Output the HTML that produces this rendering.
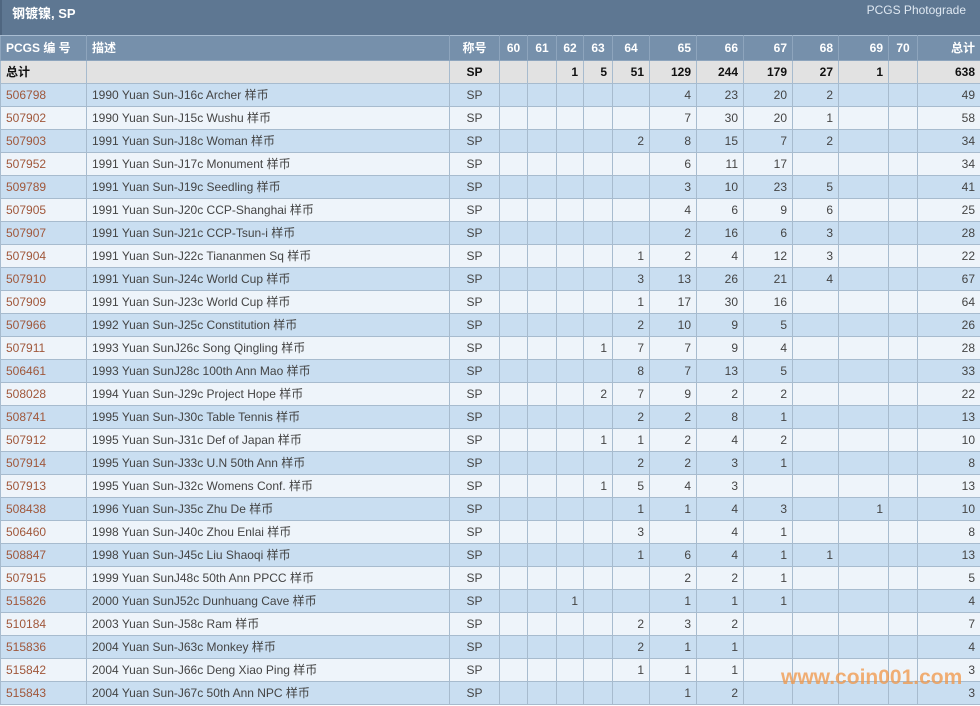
<!DOCTYPE html>
<html><head><meta charset="utf-8"><style>
*{margin:0;padding:0;box-sizing:border-box}
body{width:980px;height:706px;overflow:hidden;background:#fff;font-family:"Liberation Sans","Noto Sans CJK SC",sans-serif;font-size:12px;color:#444;position:relative}
.title{height:35px;background:#5e7792;color:#fff;position:relative;border-left:2px solid #4f6680}
.title .l{position:absolute;left:10px;top:6px;font-weight:bold;font-size:13px;line-height:16px}
.title .r{position:absolute;right:14px;top:3px;font-size:12px;color:#dfe8f2;line-height:14px}
table{border-collapse:collapse;table-layout:fixed;width:980px;position:absolute;top:35px;left:0}
td,th{height:23px;line-height:14px;border:1px solid #a7bbce;padding:0 5px;white-space:nowrap;overflow:hidden;text-align:right;vertical-align:middle}
td.d span{font-family:"Noto Sans CJK SC",sans-serif;font-size:12px;line-height:14px;vertical-align:top}
th{background:#7690ab;color:#fff;font-weight:bold;height:25px;border-color:#8ea5bd;border-top:1px solid #a9bdd2}
tr.tot td{background:#e2e2e2;font-weight:bold;color:#111}
tr.a td{background:#c9def1}
tr.b td{background:#eef4fa}
td.id{color:#a0573a;text-align:left}
td.d{text-align:left}
th.l{text-align:left}
td.c,th.c{text-align:center}
.wm{position:absolute;left:781px;top:666px;font-size:21px;font-weight:bold;color:rgba(240,150,70,0.75);font-family:"Liberation Sans",sans-serif}
</style></head><body>
<div class="title"><span class="l">钢镀镍, SP</span><span class="r">PCGS Photograde</span></div>
<table>
<colgroup><col style="width:86px"><col style="width:363px"><col style="width:50px"><col style="width:28px"><col style="width:29px"><col style="width:27px"><col style="width:29px"><col style="width:37px"><col style="width:47px"><col style="width:47px"><col style="width:49px"><col style="width:46px"><col style="width:50px"><col style="width:29px"><col style="width:63px"></colgroup>
<tr><th class="l">PCGS 编 号</th><th class="l">描述</th><th class="c">称号</th><th class="c">60</th><th class="c">61</th><th class="c">62</th><th class="c">63</th><th class="c">64</th><th>65</th><th>66</th><th>67</th><th>68</th><th>69</th><th class="c">70</th><th>总计</th></tr>
<tr class="tot"><td style="text-align:left">总计</td><td></td><td class="c">SP</td><td></td><td></td><td>1</td><td>5</td><td>51</td><td>129</td><td>244</td><td>179</td><td>27</td><td>1</td><td></td><td>638</td></tr>
<tr class="a"><td class="id">506798</td><td class="d">1990 Yuan Sun-J16c Archer <span>样币</span></td><td class="c">SP</td><td></td><td></td><td></td><td></td><td></td><td>4</td><td>23</td><td>20</td><td>2</td><td></td><td></td><td>49</td></tr>
<tr class="b"><td class="id">507902</td><td class="d">1990 Yuan Sun-J15c Wushu <span>样币</span></td><td class="c">SP</td><td></td><td></td><td></td><td></td><td></td><td>7</td><td>30</td><td>20</td><td>1</td><td></td><td></td><td>58</td></tr>
<tr class="a"><td class="id">507903</td><td class="d">1991 Yuan Sun-J18c Woman <span>样币</span></td><td class="c">SP</td><td></td><td></td><td></td><td></td><td>2</td><td>8</td><td>15</td><td>7</td><td>2</td><td></td><td></td><td>34</td></tr>
<tr class="b"><td class="id">507952</td><td class="d">1991 Yuan Sun-J17c Monument <span>样币</span></td><td class="c">SP</td><td></td><td></td><td></td><td></td><td></td><td>6</td><td>11</td><td>17</td><td></td><td></td><td></td><td>34</td></tr>
<tr class="a"><td class="id">509789</td><td class="d">1991 Yuan Sun-J19c Seedling <span>样币</span></td><td class="c">SP</td><td></td><td></td><td></td><td></td><td></td><td>3</td><td>10</td><td>23</td><td>5</td><td></td><td></td><td>41</td></tr>
<tr class="b"><td class="id">507905</td><td class="d">1991 Yuan Sun-J20c CCP-Shanghai <span>样币</span></td><td class="c">SP</td><td></td><td></td><td></td><td></td><td></td><td>4</td><td>6</td><td>9</td><td>6</td><td></td><td></td><td>25</td></tr>
<tr class="a"><td class="id">507907</td><td class="d">1991 Yuan Sun-J21c CCP-Tsun-i <span>样币</span></td><td class="c">SP</td><td></td><td></td><td></td><td></td><td></td><td>2</td><td>16</td><td>6</td><td>3</td><td></td><td></td><td>28</td></tr>
<tr class="b"><td class="id">507904</td><td class="d">1991 Yuan Sun-J22c Tiananmen Sq <span>样币</span></td><td class="c">SP</td><td></td><td></td><td></td><td></td><td>1</td><td>2</td><td>4</td><td>12</td><td>3</td><td></td><td></td><td>22</td></tr>
<tr class="a"><td class="id">507910</td><td class="d">1991 Yuan Sun-J24c World Cup <span>样币</span></td><td class="c">SP</td><td></td><td></td><td></td><td></td><td>3</td><td>13</td><td>26</td><td>21</td><td>4</td><td></td><td></td><td>67</td></tr>
<tr class="b"><td class="id">507909</td><td class="d">1991 Yuan Sun-J23c World Cup <span>样币</span></td><td class="c">SP</td><td></td><td></td><td></td><td></td><td>1</td><td>17</td><td>30</td><td>16</td><td></td><td></td><td></td><td>64</td></tr>
<tr class="a"><td class="id">507966</td><td class="d">1992 Yuan Sun-J25c Constitution <span>样币</span></td><td class="c">SP</td><td></td><td></td><td></td><td></td><td>2</td><td>10</td><td>9</td><td>5</td><td></td><td></td><td></td><td>26</td></tr>
<tr class="b"><td class="id">507911</td><td class="d">1993 Yuan SunJ26c Song Qingling <span>样币</span></td><td class="c">SP</td><td></td><td></td><td></td><td>1</td><td>7</td><td>7</td><td>9</td><td>4</td><td></td><td></td><td></td><td>28</td></tr>
<tr class="a"><td class="id">506461</td><td class="d">1993 Yuan SunJ28c 100th Ann Mao <span>样币</span></td><td class="c">SP</td><td></td><td></td><td></td><td></td><td>8</td><td>7</td><td>13</td><td>5</td><td></td><td></td><td></td><td>33</td></tr>
<tr class="b"><td class="id">508028</td><td class="d">1994 Yuan Sun-J29c Project Hope <span>样币</span></td><td class="c">SP</td><td></td><td></td><td></td><td>2</td><td>7</td><td>9</td><td>2</td><td>2</td><td></td><td></td><td></td><td>22</td></tr>
<tr class="a"><td class="id">508741</td><td class="d">1995 Yuan Sun-J30c Table Tennis <span>样币</span></td><td class="c">SP</td><td></td><td></td><td></td><td></td><td>2</td><td>2</td><td>8</td><td>1</td><td></td><td></td><td></td><td>13</td></tr>
<tr class="b"><td class="id">507912</td><td class="d">1995 Yuan Sun-J31c Def of Japan <span>样币</span></td><td class="c">SP</td><td></td><td></td><td></td><td>1</td><td>1</td><td>2</td><td>4</td><td>2</td><td></td><td></td><td></td><td>10</td></tr>
<tr class="a"><td class="id">507914</td><td class="d">1995 Yuan Sun-J33c U.N 50th Ann <span>样币</span></td><td class="c">SP</td><td></td><td></td><td></td><td></td><td>2</td><td>2</td><td>3</td><td>1</td><td></td><td></td><td></td><td>8</td></tr>
<tr class="b"><td class="id">507913</td><td class="d">1995 Yuan Sun-J32c Womens Conf. <span>样币</span></td><td class="c">SP</td><td></td><td></td><td></td><td>1</td><td>5</td><td>4</td><td>3</td><td></td><td></td><td></td><td></td><td>13</td></tr>
<tr class="a"><td class="id">508438</td><td class="d">1996 Yuan Sun-J35c Zhu De <span>样币</span></td><td class="c">SP</td><td></td><td></td><td></td><td></td><td>1</td><td>1</td><td>4</td><td>3</td><td></td><td>1</td><td></td><td>10</td></tr>
<tr class="b"><td class="id">506460</td><td class="d">1998 Yuan Sun-J40c Zhou Enlai <span>样币</span></td><td class="c">SP</td><td></td><td></td><td></td><td></td><td>3</td><td></td><td>4</td><td>1</td><td></td><td></td><td></td><td>8</td></tr>
<tr class="a"><td class="id">508847</td><td class="d">1998 Yuan Sun-J45c Liu Shaoqi <span>样币</span></td><td class="c">SP</td><td></td><td></td><td></td><td></td><td>1</td><td>6</td><td>4</td><td>1</td><td>1</td><td></td><td></td><td>13</td></tr>
<tr class="b"><td class="id">507915</td><td class="d">1999 Yuan SunJ48c 50th Ann PPCC <span>样币</span></td><td class="c">SP</td><td></td><td></td><td></td><td></td><td></td><td>2</td><td>2</td><td>1</td><td></td><td></td><td></td><td>5</td></tr>
<tr class="a"><td class="id">515826</td><td class="d">2000 Yuan SunJ52c Dunhuang Cave <span>样币</span></td><td class="c">SP</td><td></td><td></td><td>1</td><td></td><td></td><td>1</td><td>1</td><td>1</td><td></td><td></td><td></td><td>4</td></tr>
<tr class="b"><td class="id">510184</td><td class="d">2003 Yuan Sun-J58c Ram <span>样币</span></td><td class="c">SP</td><td></td><td></td><td></td><td></td><td>2</td><td>3</td><td>2</td><td></td><td></td><td></td><td></td><td>7</td></tr>
<tr class="a"><td class="id">515836</td><td class="d">2004 Yuan Sun-J63c Monkey <span>样币</span></td><td class="c">SP</td><td></td><td></td><td></td><td></td><td>2</td><td>1</td><td>1</td><td></td><td></td><td></td><td></td><td>4</td></tr>
<tr class="b"><td class="id">515842</td><td class="d">2004 Yuan Sun-J66c Deng Xiao Ping <span>样币</span></td><td class="c">SP</td><td></td><td></td><td></td><td></td><td>1</td><td>1</td><td>1</td><td></td><td></td><td></td><td></td><td>3</td></tr>
<tr class="a"><td class="id">515843</td><td class="d">2004 Yuan Sun-J67c 50th Ann NPC <span>样币</span></td><td class="c">SP</td><td></td><td></td><td></td><td></td><td></td><td>1</td><td>2</td><td></td><td></td><td></td><td></td><td>3</td></tr>
</table>
<div class="wm">www.coin001.com</div>
</body></html>
